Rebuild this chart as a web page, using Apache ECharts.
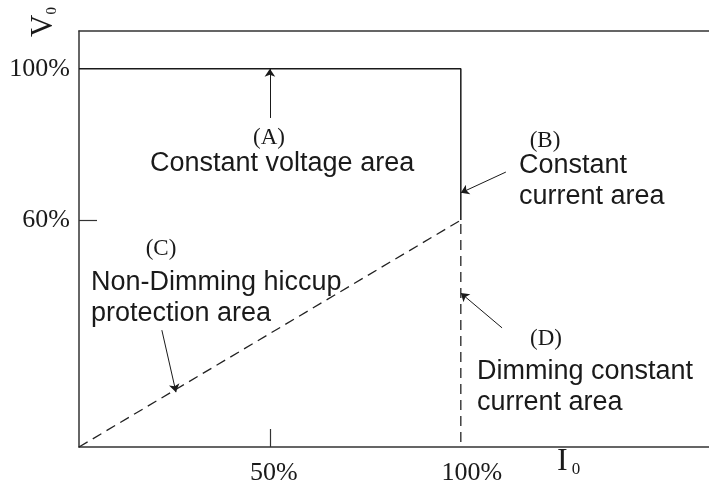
<!DOCTYPE html>
<html><head><meta charset="utf-8">
<script src="https://cdn.jsdelivr.net/npm/echarts@6/dist/echarts.min.js"></script>
<style>html,body{margin:0;padding:0;background:#fff}#c{width:709px;height:489px}</style>
</head><body><div id="c"></div>
<script>
// ---- data ----
const xTickValues = [50, 100];
const xTickLabels = ['50%', '100%'];
const yTickValues = [60, 100];
const yTickLabels = ['60%', '100%'];
const constantLine = [[0, 100], [100, 100], [100, 60]];   // solid: CV then CC
const dimmingLine = [[0, 0], [100, 60], [100, 0]];        // dashed: hiccup + dimming CC
const arrowA = [[50, 87], [50, 100]];
const arrowB = [[111.8, 72.7], [100, 67.2]];
const arrowC = [[21.7, 30.9], [25.4, 14.5]];
const arrowD = [[110.8, 31.5], [100, 40.7]];

const ink = '#1a1a1a';
const serif = '"Liberation Serif", "DejaVu Serif", serif';
const sans = '"Liberation Sans", Arial, sans-serif';

const chart = echarts.init(document.getElementById('c'), null, {renderer: 'canvas'});
const axisLine = {show: true, onZero: false, lineStyle: {color: '#333', width: 1.5}};
chart.setOption({
  animation: false,
  backgroundColor: '#fff',
  grid: {left: 79, top: 31, right: 0, bottom: 42, containLabel: false},
  xAxis: [{
    type: 'value', min: 0, max: 165,
    axisLine: axisLine,
    axisTick: {show: true, inside: true, length: 18, customValues: [xTickValues[0]], lineStyle: {color: '#333', width: 1.2}},
    axisLabel: {
      customValues: xTickValues, margin: 13, color: ink,
      formatter: v => v === xTickValues[0] ? '{a|' + xTickLabels[0] + '}' : '{b|' + xTickLabels[1] + '}',
      rich: {
        a: {fontFamily: serif, fontSize: 26, color: ink, padding: [0, 0, 0, 8]},
        b: {fontFamily: serif, fontSize: 26, color: ink, padding: [0, 0, 0, 22]}
      }
    },
    splitLine: {show: false}
  }, {
    type: 'value', min: 0, max: 165, position: 'top',
    axisLine: axisLine, axisTick: {show: false}, axisLabel: {show: false}, splitLine: {show: false}
  }],
  yAxis: {
    type: 'value', min: 0, max: 110,
    axisLine: axisLine,
    axisTick: {show: true, inside: true, length: 18, customValues: [yTickValues[0]], lineStyle: {color: '#333', width: 1.2}},
    axisLabel: {
      customValues: yTickValues, margin: 9, color: ink, fontFamily: serif, fontSize: 26,
      formatter: v => yTickLabels[yTickValues.indexOf(v)]
    },
    splitLine: {show: false}
  },
  series: [
    {type: 'line', data: constantLine, symbol: 'none', lineStyle: {color: ink, width: 1.5}},
    {type: 'line', data: dimmingLine, symbol: 'none', lineStyle: {color: '#222', width: 1.3, type: [10, 6]}},
    {
      type: 'lines', coordinateSystem: 'cartesian2d', polyline: false,
      symbol: ['none', 'arrow'], symbolSize: [0, 8],
      lineStyle: {color: ink, width: 1, opacity: 1},
      data: [arrowA, arrowB, arrowC, arrowD].map(a => ({coords: a}))
    }
  ],
  graphic: [
    {type: 'text', x: 44, y: 22, rotation: Math.PI / 2,
      style: {text: '{v|V}{s|0}', align: 'center', verticalAlign: 'middle',
        rich: {v: {fontFamily: serif, fontSize: 31, fill: ink}, s: {fontFamily: serif, fontSize: 15, fill: ink, verticalAlign: 'bottom'}}}},
    {type: 'text', x: 557, y: 462,
      style: {text: '{v|I}{s|0}', align: 'left', verticalAlign: 'middle',
        rich: {v: {fontFamily: serif, fontSize: 32, fill: ink}, s: {fontFamily: serif, fontSize: 17, fill: ink, verticalAlign: 'bottom', padding: [0, 0, 0, 4]}}}},
    {type: 'text', x: 269, y: 138, style: {text: '(A)', font: '23px ' + serif, fill: ink, align: 'center', verticalAlign: 'middle'}},
    {type: 'text', x: 150, y: 164, style: {text: 'Constant voltage area', font: '27px ' + sans, fill: ink, align: 'left', verticalAlign: 'middle'}},
    {type: 'text', x: 545, y: 141, style: {text: '(B)', font: '23px ' + serif, fill: ink, align: 'center', verticalAlign: 'middle'}},
    {type: 'text', x: 519, y: 166, style: {text: 'Constant', font: '27px ' + sans, fill: ink, align: 'left', verticalAlign: 'middle'}},
    {type: 'text', x: 519, y: 197, style: {text: 'current area', font: '27px ' + sans, fill: ink, align: 'left', verticalAlign: 'middle'}},
    {type: 'text', x: 161, y: 249, style: {text: '(C)', font: '23px ' + serif, fill: ink, align: 'center', verticalAlign: 'middle'}},
    {type: 'text', x: 91, y: 283, style: {text: 'Non-Dimming hiccup', font: '27px ' + sans, fill: ink, align: 'left', verticalAlign: 'middle'}},
    {type: 'text', x: 91, y: 314, style: {text: 'protection area', font: '27px ' + sans, fill: ink, align: 'left', verticalAlign: 'middle'}},
    {type: 'text', x: 546, y: 339, style: {text: '(D)', font: '23px ' + serif, fill: ink, align: 'center', verticalAlign: 'middle'}},
    {type: 'text', x: 477, y: 372, style: {text: 'Dimming constant', font: '27px ' + sans, fill: ink, align: 'left', verticalAlign: 'middle'}},
    {type: 'text', x: 477, y: 403, style: {text: 'current area', font: '27px ' + sans, fill: ink, align: 'left', verticalAlign: 'middle'}}
  ]
});
</script>
</body></html>
